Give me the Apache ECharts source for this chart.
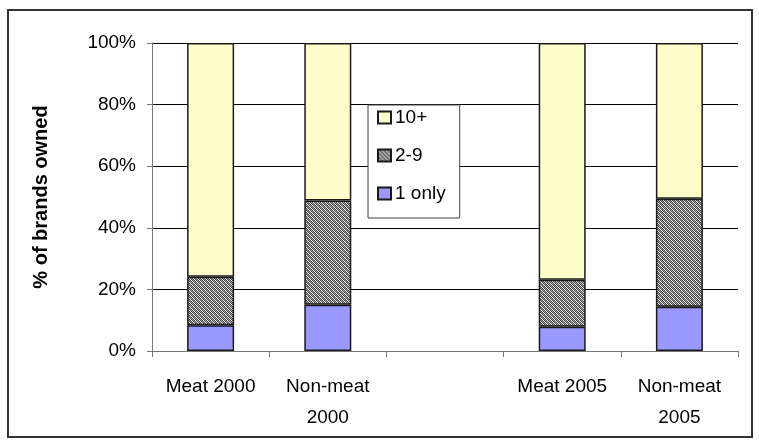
<!DOCTYPE html>
<html><head><meta charset="utf-8">
<script src="https://cdn.jsdelivr.net/npm/echarts@6/dist/echarts.min.js"></script>
<style>html,body{margin:0;padding:0;background:#fff}#c{width:759px;height:442px}</style>
</head><body><div id="c"></div>
<script>
const categories = ['Meat 2000', 'Non-meat\n2000', '', 'Meat 2005', 'Non-meat\n2005'];
const oneOnly = [8.4, 15.0, null, 7.9, 14.4];
const twoToNine = [15.7, 33.9, null, 15.2, 35.0];
const tenPlus = [75.9, 51.1, null, 76.9, 50.6];
const yTicks = [0, 20, 40, 60, 80, 100];

const pc = document.createElement('canvas');
pc.width = 4; pc.height = 4;
const g = pc.getContext('2d');
g.fillStyle = '#ffffff'; g.fillRect(0,0,4,4);
for (let x = 0; x < 4; x++) for (let y = 0; y < 4; y++) {
  if ((x + y) % 2 === 0) { g.fillStyle = '#4a4a4a'; g.fillRect(x, y, 1, 1); }
  else if ((x - y + 8) % 4 === 1) { g.fillStyle = '#9a9a9a'; g.fillRect(x, y, 1, 1); }
}
const hatch = { image: pc, repeat: 'repeat' };

const font = 'Liberation Sans, Arial, sans-serif';
const chart = echarts.init(document.getElementById('c'), null, { renderer: 'canvas' });
const border = { borderColor: '#1a1a1a', borderWidth: 1.5 };
chart.setOption({
  animation: false,
  textStyle: { fontFamily: font, color: '#000' },
  grid: { left: 152, right: 21, top: 43, bottom: 91 },
  graphic: [{ type: 'rect', shape: { x: 8, y: 10, width: 744, height: 427 }, style: { fill: 'none', stroke: '#333', lineWidth: 2 }, silent: true }],
  legend: {
    orient: 'vertical', left: 368, top: 105, width: 85,
    padding: [3, 14, 15, 9], itemGap: 19,
    backgroundColor: '#fff', borderColor: '#444', borderWidth: 1,
    itemWidth: 13, itemHeight: 12, icon: 'rect',
    textStyle: { fontSize: 19, fontFamily: font, color: '#000', padding: [0, 0, 0, -1] },
    data: ['10+', '2-9', '1 only']
  },
  xAxis: {
    type: 'category', data: categories,
    axisLine: { lineStyle: { color: '#777', width: 1 } },
    axisTick: { show: true, length: 6, lineStyle: { color: '#777' } },
    axisLabel: { fontSize: 19, color: '#000', margin: 20, lineHeight: 31, interval: 0 }
  },
  yAxis: {
    type: 'value', min: 0, max: 100, interval: 20,
    name: '% of brands owned', nameLocation: 'middle', nameGap: 101,
    nameTextStyle: { fontSize: 20, fontWeight: 'bold', color: '#000', fontFamily: font },
    axisLine: { show: true, lineStyle: { color: '#777' } },
    axisTick: { show: true, length: 5, lineStyle: { color: '#777' } },
    splitLine: { lineStyle: { color: '#000', width: 1 } },
    axisLabel: { fontSize: 19, color: '#000', margin: 16, formatter: v => yTicks.includes(v) ? v + '%' : '' }
  },
  series: [
    { name: '1 only', type: 'bar', stack: 's', data: oneOnly, barWidth: 47, itemStyle: Object.assign({ color: '#9999ff' }, border) },
    { name: '2-9', type: 'bar', stack: 's', data: twoToNine, barWidth: 47, itemStyle: Object.assign({ color: hatch }, border) },
    { name: '10+', type: 'bar', stack: 's', data: tenPlus, barWidth: 47, itemStyle: Object.assign({ color: '#ffffcc' }, border) }
  ]
});
</script></body></html>
